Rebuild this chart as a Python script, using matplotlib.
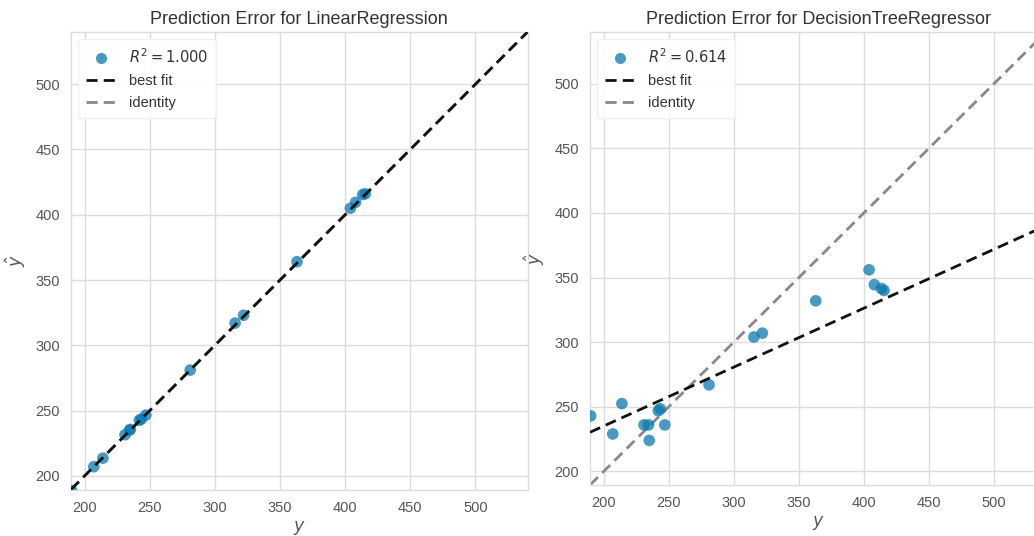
import numpy as np
import matplotlib
matplotlib.use("Agg")
import matplotlib.pyplot as plt
from matplotlib.lines import Line2D

# ---- data ----
y_true = [190, 207, 214, 231, 234.5, 235, 242, 243.5, 247, 281,
          315.5, 322, 363, 404, 408, 413.5, 415.5]
lr_pred = [188.5, 207, 213.5, 231.5, 235, 235.5, 242.5, 243.5, 246.5, 281,
           317, 323, 364, 405, 409.5, 415.5, 416]
dt_pred = [243, 229, 252.5, 236, 236, 224, 247, 248.5, 236, 267,
           304, 307, 332, 356, 344.5, 341.5, 340]
lr_r2 = 1.000
dt_r2 = 0.614
lr_fit = (1.0, 0.0)        # slope, intercept of best-fit line
dt_fit = (0.456, 143.9)
limits = (189.5, 540)
ticks = [200, 250, 300, 350, 400, 450, 500]
titles = ["Prediction Error for LinearRegression",
          "Prediction Error for DecisionTreeRegressor"]

plt.rcParams['font.family'] = ['Liberation Sans', 'DejaVu Sans']

fig = plt.figure(figsize=(10.34, 5.36), dpi=100)
W, H = 1034, 536
ax1 = fig.add_axes([71 / W, 1 - 489.5 / H, 456.5 / W, 457.5 / H])
ax2 = fig.add_axes([590 / W, 1 - 485 / H, 456 / W, 453 / H])

point_color = '#0a78b0'
grid_color = '#dcdcdc'
text_color = '#555555'

for ax, pred, r2, fit, title in [(ax1, lr_pred, lr_r2, lr_fit, titles[0]),
                                 (ax2, dt_pred, dt_r2, dt_fit, titles[1])]:
    ax.set_facecolor('white')
    ax.scatter(y_true, pred, s=70, color=point_color, alpha=0.75,
               edgecolors='none', zorder=3)
    xs = np.array(limits)
    ax.plot(xs, xs, color='#888888', ls='--', lw=2, dashes=(4, 2.2), zorder=2)
    ax.plot(xs, fit[0] * xs + fit[1], color='#111111', ls='--', lw=2,
            dashes=(4, 2.2), zorder=4)
    ax.set_xlim(limits)
    ax.set_ylim(limits)
    ax.set_xticks(ticks)
    ax.set_yticks(ticks)
    ax.grid(True, color=grid_color, lw=1)
    ax.set_axisbelow(True)
    for sp in ax.spines.values():
        sp.set_color(grid_color)
        sp.set_linewidth(1)
    ax.tick_params(length=0, pad=8, labelsize=10.5, labelcolor=text_color)
    ax.set_title(title, fontsize=13, color='#333333', pad=6)
    ax.set_xlabel(r'$y$', fontsize=12.5, color=text_color, labelpad=3)
    ax.set_ylabel(r'$\hat{y}$', fontsize=12.5, color=text_color, labelpad=5)
    handles = [
        Line2D([], [], ls='none', marker='o', markersize=8,
               color=point_color, alpha=0.75, markeredgewidth=0),
        Line2D([], [], color='#111111', ls='--', lw=2, dashes=(4, 2.2)),
        Line2D([], [], color='#888888', ls='--', lw=2, dashes=(4, 2.2)),
    ]
    labels = [r'$R^2 = %0.3f$' % r2, 'best fit', 'identity']
    leg = ax.legend(handles, labels, loc='upper left', frameon=True,
                    fontsize=10.5, handlelength=2.0, borderpad=0.55,
                    labelspacing=0.55, handletextpad=0.9)
    leg.get_frame().set_edgecolor('#eeeeee')
    leg.get_frame().set_facecolor('white')
    leg.get_frame().set_alpha(0.9)
    for t in leg.get_texts():
        t.set_color('#333333')

fig.savefig('out.png', dpi=100, facecolor='white')
